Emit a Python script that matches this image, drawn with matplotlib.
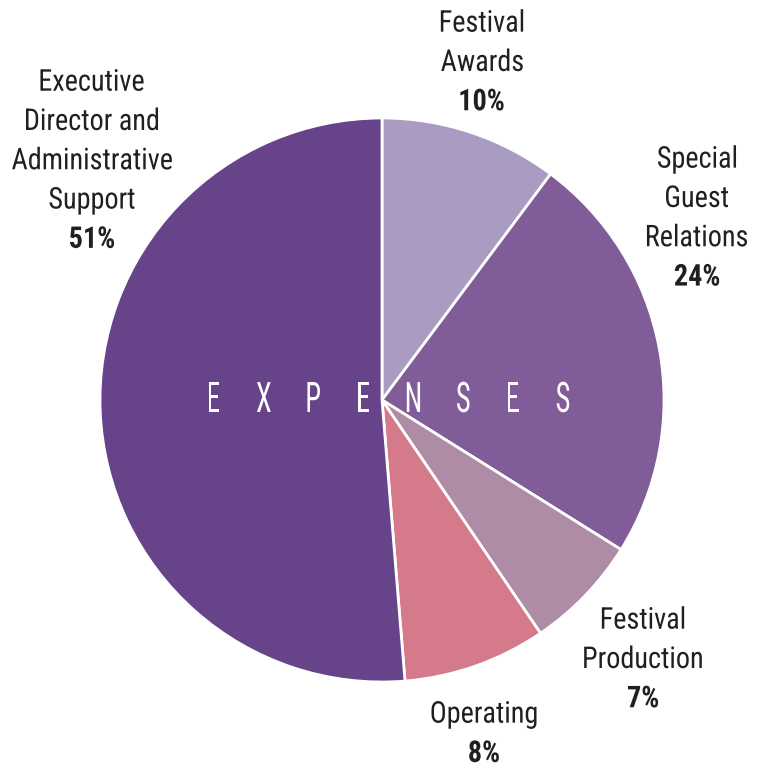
import matplotlib.pyplot as plt
import numpy as np
from matplotlib import font_manager
from matplotlib.font_manager import FontProperties
from matplotlib.textpath import TextPath
from matplotlib.patches import PathPatch
from matplotlib.transforms import Affine2D

labels = ['Festival\nAwards', 'Special\nGuest\nRelations', 'Festival\nProduction', 'Operating',
          'Executive\nDirector and\nAdministrative\nSupport']
shares = [10.2, 23.7, 6.6, 8.2, 51.3]
colors = ['#aa9bc2', '#805c98', '#ae8ca6', '#d47a8a', '#674489']

names = {f.name for f in font_manager.fontManager.ttflist}
fam = 'Roboto'
for cand in ['Roboto Condensed', 'Liberation Sans Narrow', 'Roboto']:
    if cand in names:
        fam = cand
        break
sx_main = 0.94 if fam != 'Roboto' else 0.79

W, H = 766, 768
fig = plt.figure(figsize=(W / 100, H / 100), dpi=100)
ax = fig.add_axes([0, 0, 1, 1])

cx, cy, r = 382, H - 400, 282
ax.pie(shares, colors=colors, startangle=90, counterclock=False,
       center=(cx, cy), radius=r, frame=True,
       wedgeprops=dict(edgecolor='white', linewidth=2))
ax.set_xlim(0, W)
ax.set_ylim(0, H)
ax.set_aspect('equal')
ax.axis('off')


# squeezed text drawn as a path; x = centre, y = middle of the caps (pixels from top)
def squeezed(x, y, s, size, sx, weight, color):
    fp = FontProperties(family=fam, weight=weight)
    tp = TextPath((0, 0), s, size=size, prop=fp)
    ext = tp.get_extents()
    cap = 0.711 * size
    tr = Affine2D().scale(sx, 1).translate(x - ext.x0 * sx - ext.width * sx / 2,
                                           H - y - cap / 2)
    ax.add_patch(PathPatch(tr.transform_path(tp), fc=color, ec='none', lw=0))


label_pos = [(482, 21), (697, 157), (643, 618), (484, 712), (92, 80)]
line_h = 39.3
tc = '#231f20'
for lab, s, (x, y) in zip(labels, shares, label_pos):
    lines = lab.split('\n')
    for i, ln in enumerate(lines):
        squeezed(x, y + i * line_h, ln, 30, sx_main, 'normal', tc)
    squeezed(x, y + len(lines) * line_h, '%d%%' % round(s), 30, sx_main, 'bold', tc)

word = 'EXPENSES'
xs = np.linspace(214, 563, len(word))
for ch, x in zip(word, xs):
    squeezed(x, 397, ch, 42, 0.68, 'normal', 'white')

fig.savefig('out.png', dpi=100)
